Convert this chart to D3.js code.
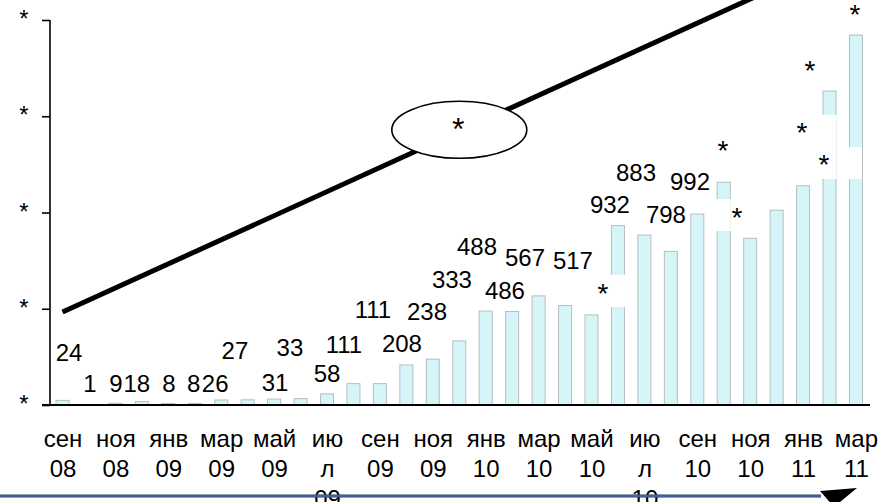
<!DOCTYPE html>
<html><head><meta charset="utf-8">
<script src="https://cdn.jsdelivr.net/npm/d3@7"></script>
<style>
html,body{margin:0;padding:0;background:#fff;}
svg{display:block;font-family:"Liberation Sans",Arial,sans-serif;}
</style></head>
<body><svg id="c" width="881" height="502"></svg>
<script>
// ---- data ----
const months = ["сен 08","окт 08","ноя 08","дек 08","янв 09","фев 09","мар 09","апр 09","май 09","июн 09",
  "июл 09","авг 09","сен 09","окт 09","ноя 09","дек 09","янв 10","фев 10","мар 10","апр 10",
  "май 10","июн 10","июл 10","авг 10","сен 10","окт 10","ноя 10","дек 10","янв 11","фев 11","мар 11"];
const values = [24,1,9,18,8,8,26,27,31,33,58,111,111,208,238,333,488,486,567,517,
  468,932,883,798,992,1157,866,1012,1139,1631,1922];
const valueLabels = ["24","1","9","18","8","8","26","27","31","33","58","111","111","208","238","333",
  "488","486","567","517","*","932","883","798","992","*","*","*","*","*","*"];
// label anchor heights (data units) and horizontal shifts, as placed in the original
const labelLevel = [275,114,114,114,114,114,114,286,119,301,166,317,499,322,488,655,826,597,769,753,
  613,1044,1210,992,1164,1356,1008,1449,1771,1283,2062];
const labelShift = [6.5,1,0.5,-5,0.7,-1,-6,-12.7,1,-10.6,0,-9.5,-7,-4.4,-5.8,-7.3,-8.7,-7.2,-13.6,7.9,
  11.5,-8,-8.4,-4.9,-7.3,-0.8,-13.2,25.3,6.9,-5.6,-1];
const tickMonths = ["сен 08","ноя 08","янв 09","мар 09","май 09","июл 09","сен 09","ноя 09",
  "янв 10","мар 10","май 10","июл 10","сен 10","ноя 10","янв 11","мар 11"];
const tickText = [["сен","08"],["ноя","08"],["янв","09"],["мар","09"],["май","09"],["ию","л","09"],
  ["сен","09"],["ноя","09"],["янв","10"],["мар","10"],["май","10"],["ию","л","10"],
  ["сен","10"],["ноя","10"],["янв","11"],["мар","11"]];
const yTicks = [0,500,1000,1500,2000];
const yTickLabel = "*";
// hidden (whited-out) portions of bars: [month index, from, to]
const masks = [[21,509,677],[25,904,1070],[29,1174,1507],[30,1174,1340]];
// trend line end points: [month index, value]
const trend = [[0,483],[30,2359]];
const bubbleText = "*";

// ---- chart ----
const svg = d3.select("#c");
const x = d3.scaleBand().domain(months).range([49.3,869.2]).paddingInner(0.47).paddingOuter(0.235);
const y = d3.scaleLinear().domain([0,2000]).range([405,20]);
const cx = m => x(m) + x.bandwidth()/2;
const FS = 24;

// bars
svg.append("g").selectAll("rect").data(values).join("rect")
  .attr("x",(d,i)=>x(months[i])+0.5)
  .attr("y",d=>y(d))
  .attr("width",x.bandwidth()-1)
  .attr("height",d=>Math.max(0,y(0)-y(d)))
  .attr("fill","#d6f5f8")
  .attr("stroke","#b5bec2")
  .attr("stroke-width",1);

// masks
svg.append("g").selectAll("rect").data(masks).join("rect")
  .attr("x",d=>x(months[d[0]])-1.5)
  .attr("y",d=>y(d[2]))
  .attr("width",x.bandwidth()+1.5)
  .attr("height",d=>y(d[1])-y(d[2]))
  .attr("fill","#fff");
// right edge of last bar stays visible
{
  const m = masks[3];
  const xr = x(months[m[0]]) + x.bandwidth() - 0.5;
  svg.append("line").attr("x1",xr).attr("x2",xr).attr("y1",y(m[2])).attr("y2",y(m[1]))
    .attr("stroke","#b5bec2").attr("stroke-width",1);
}

// y axis
const yAxis = d3.axisLeft(y).tickValues(yTicks).tickSize(8).tickFormat(()=>"");
const ga = svg.append("g").attr("transform","translate(50,0)").call(yAxis);
ga.select(".domain").attr("stroke","#000").attr("stroke-width",1.6).attr("d","M0,405V20");
ga.selectAll(".tick line").attr("stroke","#000").attr("stroke-width",1.6);
svg.append("g").selectAll("text").data(yTicks).join("text")
  .attr("x",24).attr("y",d=>y(d)+7)
  .attr("text-anchor","middle").attr("font-size",24).text(yTickLabel);

// x axis baseline
const xAxis = d3.axisBottom(x).tickValues([]).tickSizeOuter(0);
const gx = svg.append("g").attr("transform","translate(0,405)").call(xAxis);
gx.select(".domain").attr("stroke","#000").attr("stroke-width",2).attr("d","M42,0H870");

// x tick labels
const tl = svg.append("g").selectAll("text").data(tickMonths).join("text")
  .attr("text-anchor","middle").attr("font-size",FS).attr("fill","#000");
tl.each(function(m,i){
  d3.select(this).selectAll("tspan").data(tickText[i]).join("tspan")
    .attr("x",cx(m)+0.5).attr("y",(t,j)=>447+30*j).text(t=>t);
});

// value labels
svg.append("g").selectAll("text").data(valueLabels).join("text")
  .attr("x",(d,i)=>cx(months[i])+labelShift[i])
  .attr("y",(d,i)=>y(labelLevel[i]) + (d==="*" ? 0.578*28 : 0.358*FS))
  .attr("text-anchor","middle")
  .attr("font-size",d=>d==="*"?28:FS)
  .text(d=>d);

// trend line
svg.append("line")
  .attr("x1",cx(months[trend[0][0]])).attr("y1",y(trend[0][1]))
  .attr("x2",cx(months[trend[1][0]])).attr("y2",y(trend[1][1]))
  .attr("stroke","#000").attr("stroke-width",5);

// bubble
svg.append("ellipse").attr("cx",459.3).attr("cy",129.8).attr("rx",67.5).attr("ry",28.5)
  .attr("fill","#fff").attr("stroke","#000").attr("stroke-width",1.6);
svg.append("text").attr("x",458.3).attr("y",121.7+0.578*32).attr("text-anchor","middle")
  .attr("font-size",32).text(bubbleText);

// bottom decorative line with arrowhead
svg.append("line").attr("x1",0).attr("x2",821).attr("y1",496).attr("y2",496)
  .attr("stroke","#1d3c78").attr("stroke-width",3.2);
svg.append("line").attr("x1",0).attr("x2",821).attr("y1",496).attr("y2",496)
  .attr("stroke","#8ea5cf").attr("stroke-width",0.7);
svg.append("path").attr("d","M820,491L857,488L834,507Z").attr("fill","#000");
</script>
</body></html>
